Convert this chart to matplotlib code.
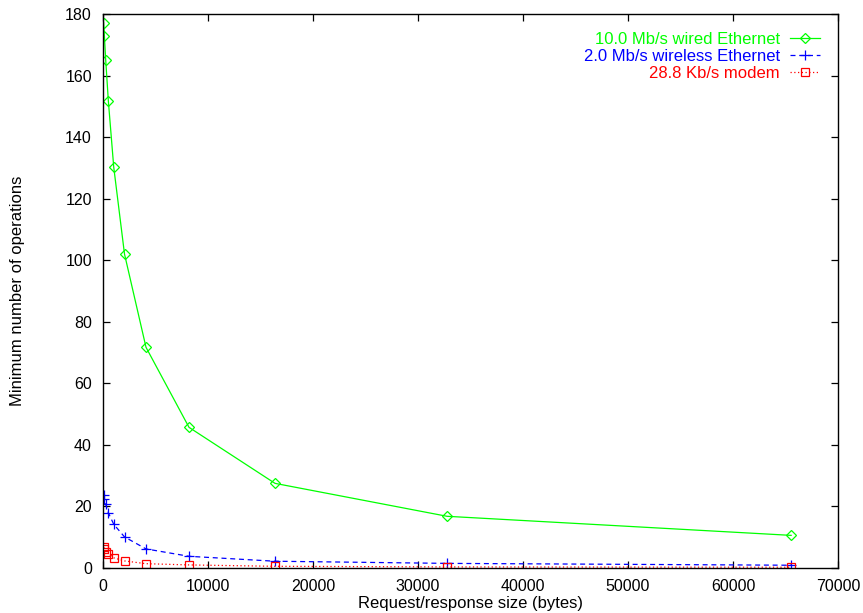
import matplotlib
matplotlib.use("Agg")
import matplotlib.pyplot as plt

sizes = [64, 128, 256, 512, 1024, 2048, 4096, 8192, 16384, 32768, 65536]
wired = [177.2, 173.0, 165.2, 151.6, 130.2, 102.0, 71.7, 45.7, 27.5, 16.8, 10.6]
wireless = [23.8, 22.3, 20.7, 17.9, 14.2, 10.1, 6.2, 3.8, 2.2, 1.5, 0.9]
modem = [6.8, 6.1, 5.3, 4.7, 3.3, 2.3, 1.4, 1.0, 0.55, 0.35, 0.25]

labels = ["10.0 Mb/s wired Ethernet", "2.0 Mb/s wireless Ethernet", "28.8 Kb/s modem"]
xticks = list(range(0, 70001, 10000))
yticks = list(range(0, 181, 20))

plt.rcParams['font.family'] = ['Liberation Sans', 'DejaVu Sans']

fig = plt.figure(figsize=(8.63, 6.13), dpi=100)
ax = fig.add_axes([103/863, 1-568/613, (838-103)/863, (568-14)/613])

ax.plot(sizes, wired, color='#00ff00', lw=0.9, ls='-', marker='D', ms=4.8,
        mfc='none', mec='#00ff00', mew=0.9, label=labels[0])
ax.plot(sizes, wireless, color='#0000ff', lw=0.9, ls=(0, (4, 3)), marker='+', ms=7,
        mec='#0000ff', mew=0.9, label=labels[1])
ax.plot(sizes, modem, color='#ff0000', lw=0.9, ls=(0, (1, 2)), marker='s', ms=6,
        mfc='none', mec='#ff0000', mew=0.9, label=labels[2])

ax.set_xlim(0, 70000)
ax.set_ylim(0, 180)
ax.set_xticks(xticks)
ax.set_yticks(yticks)
ax.tick_params(direction='in', top=True, right=True, length=5, width=0.9,
               labelsize=11.5)
ax.tick_params(axis='x', pad=8)
ax.tick_params(axis='y', pad=8)
for s in ax.spines.values():
    s.set_linewidth(1.0)

ax.set_xlabel("Request/response size (bytes)", fontsize=12, va='center')
ax.set_ylabel("Minimum number of operations", fontsize=12, va='center')
ax.xaxis.set_label_coords(0.5, (568-603.5)/554)
ax.yaxis.set_label_coords((18-103)/735, 0.5)

leg = ax.legend(loc='upper right', frameon=False, markerfirst=False, fontsize=12,
                handlelength=1.8, handletextpad=0.6, labelspacing=0.12,
                borderaxespad=0.0, borderpad=0.0, labelcolor='linecolor',
                bbox_to_anchor=((820-103)/735, (568-32)/554))

fig.savefig("out.png", dpi=100)
